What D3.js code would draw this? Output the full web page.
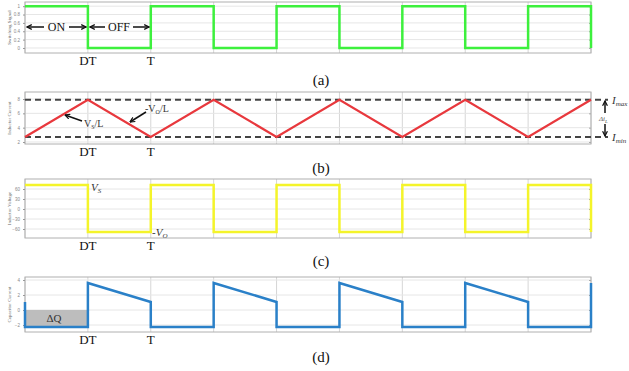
<!DOCTYPE html>
<html>
<head>
<meta charset="utf-8">
<script src="https://cdn.jsdelivr.net/npm/d3@7"></script>
<style>
  body { margin: 0; background: #fff; }
  svg { display: block; }
</style>
</head>
<body>
<script>
// time axis: one grid step = DT, two steps = T
const timeTicks = [0, 1, 2, 3, 4, 5, 6, 7, 8, 9];
const markerLabels = [{t: 1, text: 'DT'}, {t: 2, text: 'T'}];

// (a) switching signal
const switchSignal = [[0,1],[1,1],[1,0],[2,0],[2,1],[3,1],[3,0],[4,0],[4,1],[5,1],[5,0],[6,0],[6,1],[7,1],[7,0],[8,0],[8,1],[9,1],[9,0]];
const switchTicks = [0, 0.2, 0.4, 0.6, 0.8, 1];

// (b) inductor current
const inductorCurrent = [[0,2.7],[1,7.9],[2,2.7],[3,7.9],[4,2.7],[5,7.9],[6,2.7],[7,7.9],[8,2.7],[9,7.9]];
const currentTicks = [2, 4, 6, 8];
const iMax = 7.9, iMin = 2.7;

// (c) inductor voltage
const inductorVoltage = [[0,72],[1,72],[1,-69],[2,-69],[2,72],[3,72],[3,-69],[4,-69],[4,72],[5,72],[5,-69],[6,-69],[6,72],[7,72],[7,-69],[8,-69],[8,72],[9,72],[9,-69]];
const voltageTicks = [-60, -30, 0, 30, 60];

// (d) capacitor current
const capacitorCurrent = [[0,1.07],[0,-2.27],[1,-2.27],[1,3.6],[2,1.07],[2,-2.27],[3,-2.27],[3,3.6],[4,1.07],[4,-2.27],[5,-2.27],[5,3.6],[6,1.07],[6,-2.27],[7,-2.27],[7,3.6],[8,1.07],[8,-2.27],[9,-2.27],[9,3.6]];
const capTicks = [-2, 0, 2, 4];
const deltaQ = {t0: 0, t1: 1, lo: -2.27, hi: 0};

const width = 629, height = 371;
const left = 25, right = 591;

const svg = d3.select('body').append('svg')
    .attr('width', width)
    .attr('height', height);

svg.append('rect').attr('width', width).attr('height', height).attr('fill', '#fff');

let x = d3.scaleLinear().domain([0, 9]).range([left, right]);

const serif = '"Liberation Serif", "DejaVu Serif", serif';

function panel(opts) {
  let y = d3.scaleLinear().domain(opts.domain).range([opts.bottom, opts.top]);
  let g = svg.append('g');

  // grid
  g.selectAll('line.vgrid').data(timeTicks).enter().append('line')
      .attr('x1', d => x(d)).attr('x2', d => x(d))
      .attr('y1', opts.top).attr('y2', opts.bottom)
      .attr('stroke', '#d6d6d6').attr('stroke-width', 1);
  g.selectAll('line.hgrid').data(opts.ticks).enter().append('line')
      .attr('x1', left).attr('x2', right)
      .attr('y1', d => y(d)).attr('y2', d => y(d))
      .attr('stroke', '#e6e6e6').attr('stroke-width', 1);

  g.append('rect')
      .attr('x', left).attr('y', opts.top)
      .attr('width', right - left).attr('height', opts.bottom - opts.top)
      .attr('fill', 'none').attr('stroke', '#b0b0b0').attr('stroke-width', 1);

  // left and right axes with small ticks
  let la = g.append('g').attr('transform', `translate(${left},0)`)
      .call(d3.axisLeft(y).tickValues(opts.ticks).tickSize(2).tickFormat(d3.format('')));
  la.select('.domain').remove();
  la.selectAll('line').attr('stroke', '#999');
  la.selectAll('text').attr('font-size', 4.5).attr('fill', '#888').attr('font-family', 'sans-serif');
  let ra = g.append('g').attr('transform', `translate(${right},0)`)
      .call(d3.axisLeft(y).tickValues(opts.ticks).tickSize(2).tickFormat(''));
  ra.select('.domain').remove();
  ra.selectAll('line').attr('stroke', '#aaa');

  g.append('text')
      .attr('transform', `translate(11,${(opts.top + opts.bottom) / 2}) rotate(-90)`)
      .attr('text-anchor', 'middle')
      .attr('font-family', serif)
      .attr('font-size', 5)
      .attr('fill', '#666')
      .text(opts.title);

  // DT / T labels
  g.selectAll('text.mark').data(markerLabels).enter().append('text')
      .attr('x', d => x(d.t)).attr('y', opts.bottom + 12)
      .attr('text-anchor', 'middle')
      .attr('font-family', serif).attr('font-size', 13)
      .attr('fill', '#111')
      .text(d => d.text);

  g.append('text')
      .attr('x', 321).attr('y', opts.captionY)
      .attr('text-anchor', 'middle')
      .attr('font-family', serif).attr('font-size', 15)
      .attr('fill', '#111')
      .text(opts.caption);

  return {g, y};
}

let defs = svg.append('defs');
defs.append('marker').attr('id', 'ah')
    .attr('viewBox', '0 0 10 10').attr('refX', 9).attr('refY', 5)
    .attr('markerWidth', 4).attr('markerHeight', 4).attr('orient', 'auto')
    .append('path').attr('d', 'M1,1 L9,5 L1,9').attr('fill', 'none')
    .attr('stroke', '#111').attr('stroke-width', 2);

function arrow(g, x1, y1, x2, y2) {
  g.append('line').attr('x1', x1).attr('y1', y1).attr('x2', x2).attr('y2', y2)
      .attr('stroke', '#111').attr('stroke-width', 1.5).attr('marker-end', 'url(#ah)');
}

let line = yS => d3.line().x(d => x(d[0])).y(d => yS(d[1]));

// (a)
let pa = panel({top: 2, bottom: 53, domain: [-0.12, 1.1], ticks: switchTicks,
  title: 'Switching Signal', caption: '(a)', captionY: 85});
pa.g.append('path').datum(switchSignal)
    .attr('d', line(pa.y)).attr('fill', 'none')
    .attr('stroke', '#3df03d').attr('stroke-width', 2.5);
arrow(pa.g, 44, 27, 27, 27);
arrow(pa.g, 69, 27, 86, 27);
arrow(pa.g, 105, 27, 90, 27);
arrow(pa.g, 133, 27, 149, 27);
pa.g.append('text').attr('x', 56.5).attr('y', 31).attr('text-anchor', 'middle')
    .attr('font-family', serif).attr('font-size', 12).attr('fill', '#111').text('ON');
pa.g.append('text').attr('x', 119).attr('y', 31).attr('text-anchor', 'middle')
    .attr('font-family', serif).attr('font-size', 12).attr('fill', '#111').text('OFF');

// (b)
let pb = panel({top: 92, bottom: 144, domain: [1.72, 8.98], ticks: currentTicks,
  title: 'Inductor Current', caption: '(b)', captionY: 173});
[iMax, iMin].forEach(v => {
  pb.g.append('line')
      .attr('x1', left).attr('x2', 608)
      .attr('y1', pb.y(v)).attr('y2', pb.y(v))
      .attr('stroke', '#444').attr('stroke-width', 2).attr('stroke-dasharray', '6,4');
});
pb.g.append('path').datum(inductorCurrent)
    .attr('d', line(pb.y)).attr('fill', 'none')
    .attr('stroke', '#e8383d').attr('stroke-width', 2.2);
arrow(pb.g, 82, 121, 65, 115);
pb.g.append('text').attr('x', 84).attr('y', 127)
    .attr('font-family', serif).attr('font-size', 10).attr('fill', '#333')
    .html('V<tspan font-size="6" dy="2">S</tspan><tspan dy="-2">/L</tspan>');
arrow(pb.g, 146, 112, 130, 122);
pb.g.append('text').attr('x', 145).attr('y', 112)
    .attr('font-family', serif).attr('font-size', 10).attr('fill', '#333')
    .html('-V<tspan font-size="6" dy="2">O</tspan><tspan dy="-2">/L</tspan>');
arrow(pb.g, 605, 113, 605, 101);
arrow(pb.g, 605, 124, 605, 136);
pb.g.append('text').attr('x', 599).attr('y', 121)
    .attr('font-family', serif).attr('font-size', 7).attr('font-style', 'italic').attr('fill', '#555')
    .html('Δi<tspan font-size="5" dy="1.5">L</tspan>');
pb.g.append('text').attr('x', 612).attr('y', pb.y(iMax) + 4)
    .attr('font-family', serif).attr('font-size', 11).attr('font-style', 'italic').attr('fill', '#333')
    .html('I<tspan font-size="7" dy="2">max</tspan>');
pb.g.append('text').attr('x', 612).attr('y', pb.y(iMin) + 4)
    .attr('font-family', serif).attr('font-size', 11).attr('font-style', 'italic').attr('fill', '#333')
    .html('I<tspan font-size="7" dy="2">min</tspan>');

// (c)
let pc = panel({top: 179, bottom: 238, domain: [-87, 90], ticks: voltageTicks,
  title: 'Inductor Voltage', caption: '(c)', captionY: 266});
pc.g.append('path').datum(inductorVoltage)
    .attr('d', line(pc.y)).attr('fill', 'none')
    .attr('stroke', '#f4f42a').attr('stroke-width', 2.5);
pc.g.append('text').attr('x', 91).attr('y', 191)
    .attr('font-family', serif).attr('font-size', 11).attr('font-style', 'italic').attr('fill', '#333')
    .html('V<tspan font-size="7" dy="2">S</tspan>');
pc.g.append('text').attr('x', 152).attr('y', 236)
    .attr('font-family', serif).attr('font-size', 11).attr('font-style', 'italic').attr('fill', '#333')
    .html('-V<tspan font-size="7" dy="2">O</tspan>');

// (d)
let pd = panel({top: 277, bottom: 332, domain: [-2.93, 4.4], ticks: capTicks,
  title: 'Capacitor Current', caption: '(d)', captionY: 362});
pd.g.append('rect')
    .attr('x', x(deltaQ.t0)).attr('y', pd.y(deltaQ.hi))
    .attr('width', x(deltaQ.t1) - x(deltaQ.t0))
    .attr('height', pd.y(deltaQ.lo) - pd.y(deltaQ.hi))
    .attr('fill', '#bdbdbd');
pd.g.append('text').attr('x', 54).attr('y', 322).attr('text-anchor', 'middle')
    .attr('font-family', serif).attr('font-size', 11).attr('fill', '#333').text('ΔQ');
pd.g.append('path').datum(capacitorCurrent)
    .attr('d', line(pd.y)).attr('fill', 'none')
    .attr('stroke', '#2a80c8').attr('stroke-width', 2.5);
</script>
</body>
</html>
